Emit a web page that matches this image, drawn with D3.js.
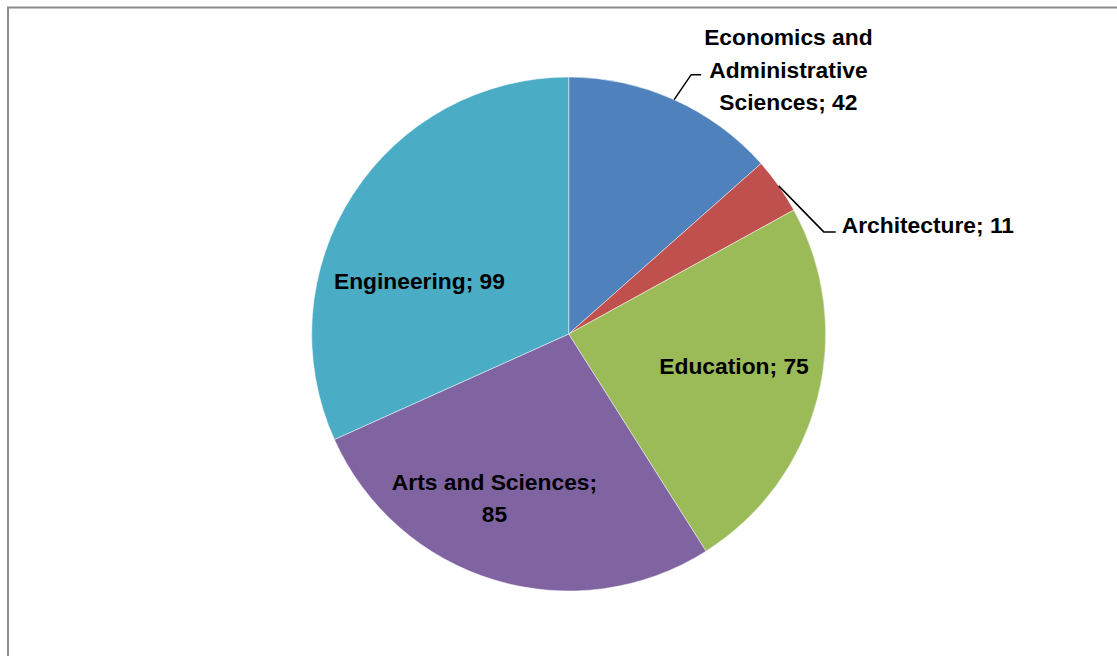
<!DOCTYPE html>
<html>
<head>
<meta charset="utf-8">
<script src="https://cdn.jsdelivr.net/npm/d3@7"></script>
<style>
  html, body { margin: 0; padding: 0; background: #fff; }
  svg { display: block; }
  text { font-family: "Liberation Sans", Arial, sans-serif; font-weight: bold; fill: #000; }
</style>
</head>
<body>
<svg id="chart" width="1117" height="656"></svg>
<script>
// Faculty breakdown
const categories = ["Economics and Administrative Sciences", "Architecture", "Education", "Arts and Sciences", "Engineering"];
const values = [42, 11, 75, 85, 99];
const colors = ["#4F81BD", "#C0504D", "#9BBB59", "#8064A2", "#4BACC6"];
// words per line for each data label ("Category; value")
const labelWrap = [[2, 1, 2], [3], [2], [3, 1], [2]];
// label placement: outside labels get a leader line, inside ones sit on the slice
const labelPlacement = ["outside", "outside", "inside", "inside", "inside"];

const W = 1117, H = 656;
const cx = 568.7, cy = 334, R = 257;
const fontSize = 22.8, lineGap = 32.5, capH = 16.2;

const svg = d3.select("#chart");

// chart frame (extends past the visible area on the right and bottom)
svg.append("rect")
  .attr("x", 8).attr("y", 7.5)
  .attr("width", W + 40).attr("height", H + 40)
  .attr("fill", "none").attr("stroke", "#8c8c8c").attr("stroke-width", 2);

const pie = d3.pie().sort(null).value(d => d)
  .startAngle(0).endAngle(2 * Math.PI);
const arcs = pie(values);
const arc = d3.arc().innerRadius(0).outerRadius(R);

const g = svg.append("g").attr("transform", `translate(${cx},${cy})`);

g.selectAll("path.slice")
  .data(arcs)
  .join("path")
  .attr("class", "slice")
  .attr("d", arc)
  .attr("fill", (d, i) => colors[i])
  .attr("stroke", "#ffffff")
  .attr("stroke-opacity", 0.6)
  .attr("stroke-width", 0.8);

function labelLines(i) {
  const words = (categories[i] + "; " + values[i]).split(" ");
  const lines = [];
  let k = 0;
  labelWrap[i].forEach(n => { lines.push(words.slice(k, k + n).join(" ")); k += n; });
  return lines;
}

const midAngle = d => (d.startAngle + d.endAngle) / 2;
const polar = (a, r) => [Math.sin(a) * r, -Math.cos(a) * r];

// inside labels: point on the slice's bisector, nudged clear of neighbours
const insideRadius = 170;
const insideNudge = { 2: [0.7, -10.8], 3: [-25.3, 1.1], 4: [-6.5, 39.3] };

// outside labels: elbow offset from the rim point, then a short horizontal run
const outsideLeader = {
  0: { elbow: [17, -25], run: 10, gap: 3, baseShift: 3 },
  1: { elbow: [45, 46], run: 12, gap: 6, baseShift: 1 }
};

arcs.forEach((d, i) => {
  const lines = labelLines(i);
  const a = midAngle(d);
  if (labelPlacement[i] === "inside") {
    const [px, py] = polar(a, insideRadius);
    const [nx, ny] = insideNudge[i];
    const mx = px + nx, my = py + ny;
    const blockH = capH + (lines.length - 1) * lineGap;
    const firstBase = my - blockH / 2 + capH;
    const t = g.append("text")
      .attr("text-anchor", "middle")
      .style("font-size", fontSize + "px");
    lines.forEach((ln, j) => {
      t.append("tspan").attr("x", mx).attr("y", firstBase + j * lineGap).text(ln);
    });
  } else {
    const L = outsideLeader[i];
    const [rx, ry] = polar(a, R);
    const ex = rx + L.elbow[0], ey = ry + L.elbow[1];
    const hx = ex + L.run;
    g.append("path")
      .attr("d", d3.line()([[rx, ry], [ex, ey], [hx, ey]]))
      .attr("fill", "none").attr("stroke", "#000").attr("stroke-width", 1.5);
    const t = g.append("text")
      .attr("text-anchor", "middle")
      .style("font-size", fontSize + "px");
    const spans = lines.map(ln => t.append("tspan").text(ln));
    const maxW = d3.max(spans, s => s.node().getComputedTextLength());
    const tx = hx + L.gap + maxW / 2;
    // the leader meets the label at its middle line
    const midIdx = Math.floor((lines.length - 1) / 2);
    const midBase = ey + L.baseShift;
    spans.forEach((s, j) => {
      s.attr("x", tx).attr("y", midBase + (j - midIdx) * lineGap);
    });
  }
});
</script>
</body>
</html>
